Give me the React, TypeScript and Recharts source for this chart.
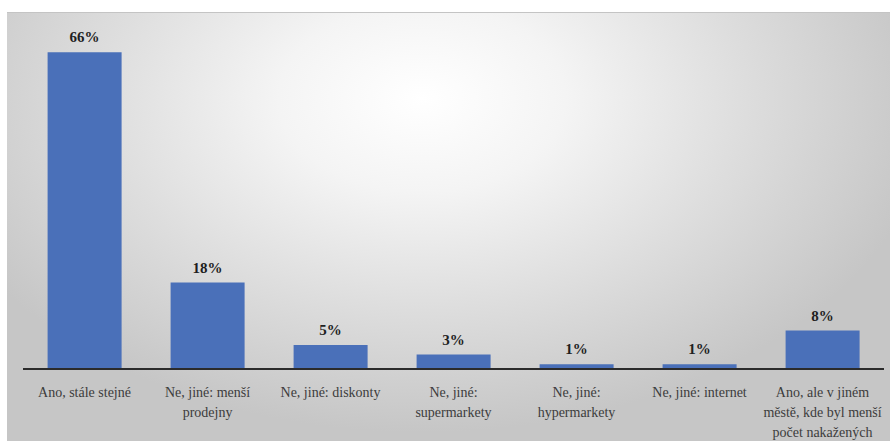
import React from 'react';
import { BarChart, Bar, XAxis, YAxis, LabelList } from 'recharts';

// Category labels; "\n" marks where each label breaks onto a new line.
const categories = [
  'Ano, stále stejné',
  'Ne, jiné: menší\nprodejny',
  'Ne, jiné: diskonty',
  'Ne, jiné:\nsupermarkety',
  'Ne, jiné:\nhypermarkety',
  'Ne, jiné: internet',
  'Ano, ale v jiném\nměstě, kde byl menší\npočet nakažených',
];

// Share of respondents (%)
const shares = [66, 18, 5, 3, 1, 1, 8];

const data = categories.map((name, i) => ({ name, value: shares[i] }));

const SERIF = '"Liberation Serif", "Times New Roman", serif';

const CategoryTick = (props: any) => {
  const { x, y, payload } = props;
  const lines = String(payload.value).split('\n');
  return (
    <g transform={`translate(${x},${y})`}>
      <text
        textAnchor="middle"
        fill="#3c3c3c"
        fontFamily={SERIF}
        fontSize={14}
      >
        {lines.map((line, i) => (
          <tspan key={i} x={0} y={20 + i * 20}>
            {line}
          </tspan>
        ))}
      </text>
    </g>
  );
};

const formatPct = (v: any) => `${v}%`;

export default function App() {
  return (
    <div
      style={{
        position: 'absolute',
        left: 0,
        top: 0,
        width: 890,
        height: 441,
        background: '#ffffff',
        overflow: 'hidden',
      }}
    >
      <div
        style={{
          position: 'absolute',
          left: 7,
          top: 12,
          width: 883,
          height: 428,
          borderTop: '1px solid #c4c4c4',
          background:
            'radial-gradient(ellipse 58% 78% at 47% 20%, #ffffff 0%, #f4f4f4 28%, #dedede 62%, #c6c6c6 100%)',
        }}
      />
      <div style={{ position: 'absolute', left: 0, top: 0 }}>
        <BarChart
          width={890}
          height={441}
          data={data}
          margin={{ top: 33, right: 6, bottom: 0, left: 23 }}
          barCategoryGap="20%"
        >
          <XAxis
            dataKey="name"
            interval={0}
            tickLine={false}
            axisLine={{ stroke: '#2b2b2b', strokeWidth: 2 }}
            tick={<CategoryTick />}
            height={72}
          />
          <YAxis hide domain={[0, 70]} />
          <Bar dataKey="value" fill="#4a70b9" isAnimationActive={false}>
            <LabelList
              dataKey="value"
              position="top"
              offset={10}
              formatter={formatPct}
              fill="#1f1f1f"
              fontFamily={SERIF}
              fontWeight="bold"
              fontSize={15}
            />
          </Bar>
        </BarChart>
      </div>
    </div>
  );
}
